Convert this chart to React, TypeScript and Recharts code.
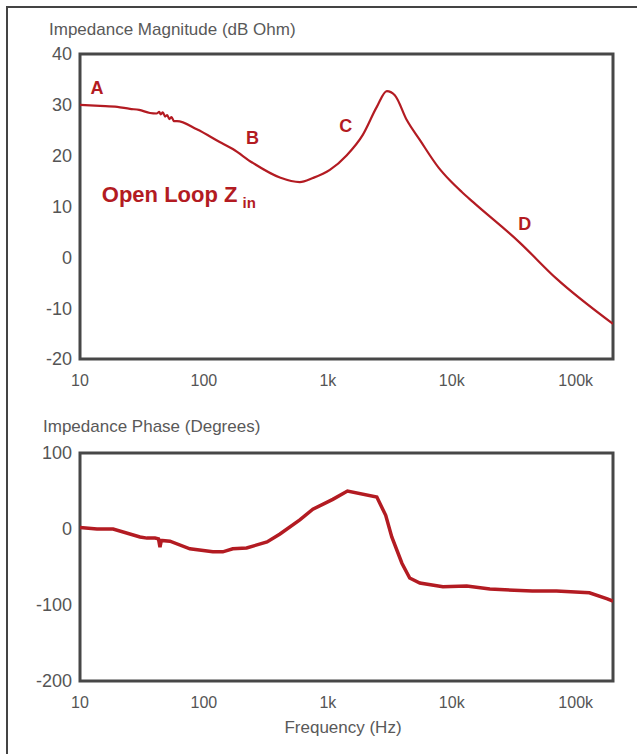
import { LineChart, Line, XAxis, YAxis, ReferenceArea, ReferenceDot } from 'recharts';

// Magnitude (dB Ohm) vs frequency (Hz)
const magFreq = [
  10, 14.5, 20, 25.3, 30, 36.7, 41.5, 43.6, 44.8, 46.6, 48.6, 50.6, 52.5, 54.8, 57.3, 60.6,
  87.6, 134, 171, 247, 410, 594, 757, 1038, 1422, 1914, 2484, 2992, 3470, 4335, 5520,
  7855, 9600, 12000, 14800, 35000, 70000, 200000,
];
const magDb = [
  30.0, 29.8, 29.6, 29.2, 29.0, 28.4, 28.3, 28.6, 28.1, 28.5, 27.7, 28.0, 27.2, 27.6, 26.8, 26.8,
  25.2, 22.7, 21.3, 18.6, 15.7, 14.8, 15.6, 17.2, 20.1, 24.1, 29.6, 32.7, 31.9, 27.0, 23.1,
  17.6, 15.2, 12.9, 10.9, 3.0, -4.2, -13.1,
];

// Phase (degrees) vs frequency (Hz)
const phaseFreq = [
  10, 13.7, 18.5, 30.5, 34.7, 40.3, 43, 44.2, 45.3, 53.2, 77, 118, 142, 171, 221, 323, 411,
  594, 757, 1096, 1440, 2484, 2930, 3280, 3960, 4575, 5520, 8480, 13200, 20300, 44600,
  69900, 129000, 180000, 200000,
];
const phaseDeg = [
  2, 0, 0, -10.5, -12, -12, -13, -24, -15, -16, -26, -30, -30, -26, -25, -17, -6.6,
  12, 26, 39, 50, 42, 18, -10.5, -45, -64.5, -71, -76, -75, -79, -81.6,
  -81.6, -84, -92, -95,
];

const freqTicks = [10, 100, 1000, 10000, 100000];
const magTicks = [-20, -10, 0, 10, 20, 30, 40];
const phaseTicks = [-200, -100, 0, 100];

const magData = magFreq.map((f, i) => ({ f, v: magDb[i] }));
const phaseData = phaseFreq.map((f, i) => ({ f, v: phaseDeg[i] }));

const RED = '#b31b22';
const FONT = '"Liberation Sans", Arial, sans-serif';
const GRAY = '#555';
const BOX = '#474747';

const fmtFreq = (v: number) => (v >= 1000 ? `${v / 1000}k` : `${v}`);

const letter = (txt: string) => (p: any) => (
  <text x={p.cx} y={p.cy} textAnchor="middle" dominantBaseline="central" fill={RED}
    fontFamily={FONT} fontWeight="bold" fontSize={18}>{txt}</text>
);

const openLoop = (p: any) => (
  <text x={p.cx} y={p.cy} textAnchor="start" dominantBaseline="central" fill={RED}
    fontFamily={FONT} fontWeight="bold" fontSize={22}>
    Open Loop Z<tspan fontSize={15} dx={5} dy={7}>in</tspan>
  </text>
);

export default function App() {
  return (
    <div style={{ position: 'absolute', left: 0, top: 0, width: 637, height: 754, background: '#fff', fontFamily: FONT, overflow: 'hidden' }}>
      <div style={{ position: 'absolute', left: 6, top: 6, width: 640, height: 760, borderTop: '2px solid #444', borderLeft: '2px solid #444' }} />

      <div style={{ position: 'absolute', left: 49, top: 20, fontSize: 17, lineHeight: '20px', color: '#595959', whiteSpace: 'nowrap' }}>
        Impedance Magnitude (dB Ohm)
      </div>
      <div style={{ position: 'absolute', left: 0, top: 0 }}>
        <LineChart width={637} height={400} data={magData} margin={{ top: 54, right: 24, bottom: 0, left: 0 }}>
          <XAxis dataKey="f" type="number" scale="log" domain={[10, 200000]} ticks={freqTicks}
            tickFormatter={fmtFreq} axisLine={false} tickLine={false} height={41} tickMargin={10}
            tick={{ fill: GRAY, fontSize: 16, fontFamily: FONT }} allowDataOverflow />
          <YAxis type="number" domain={[-20, 40]} ticks={magTicks} width={80} axisLine={false}
            tickLine={false} tick={{ fill: GRAY, fontSize: 18, fontFamily: FONT }} interval={0} />
          <ReferenceArea x1={10} x2={200000} y1={-20} y2={40} fill="none" stroke={BOX} strokeWidth={3} ifOverflow="visible" />
          <Line dataKey="v" type="monotone" stroke={RED} strokeWidth={2.2} dot={false} isAnimationActive={false} />
          <ReferenceDot x={13.7} y={33.3} r={0} shape={letter('A')} />
          <ReferenceDot x={247} y={23.5} r={0} shape={letter('B')} />
          <ReferenceDot x={1394} y={25.8} r={0} shape={letter('C')} />
          <ReferenceDot x={38800} y={6.6} r={0} shape={letter('D')} />
          <ReferenceDot x={15} y={12.3} r={0} shape={openLoop} />
        </LineChart>
      </div>

      <div style={{ position: 'absolute', left: 43, top: 417, fontSize: 17, lineHeight: '20px', color: '#595959', whiteSpace: 'nowrap' }}>
        Impedance Phase (Degrees)
      </div>
      <div style={{ position: 'absolute', left: 0, top: 400 }}>
        <LineChart width={637} height={354} data={phaseData} margin={{ top: 53, right: 24, bottom: 32, left: 0 }}>
          <XAxis dataKey="f" type="number" scale="log" domain={[10, 200000]} ticks={freqTicks}
            tickFormatter={fmtFreq} axisLine={false} tickLine={false} height={41} tickMargin={10}
            tick={{ fill: GRAY, fontSize: 16, fontFamily: FONT }} allowDataOverflow />
          <YAxis type="number" domain={[-200, 100]} ticks={phaseTicks} width={80} axisLine={false}
            tickLine={false} tick={{ fill: GRAY, fontSize: 18, fontFamily: FONT }} interval={0} />
          <ReferenceArea x1={10} x2={200000} y1={-200} y2={100} fill="none" stroke={BOX} strokeWidth={3} ifOverflow="visible" />
          <Line dataKey="v" type="linear" stroke={RED} strokeWidth={3.5} dot={false} isAnimationActive={false} />
        </LineChart>
      </div>

      <div style={{ position: 'absolute', left: 0, width: 686, top: 718, textAlign: 'center', fontSize: 17, lineHeight: '20px', color: '#595959' }}>
        Frequency (Hz)
      </div>
    </div>
  );
}
